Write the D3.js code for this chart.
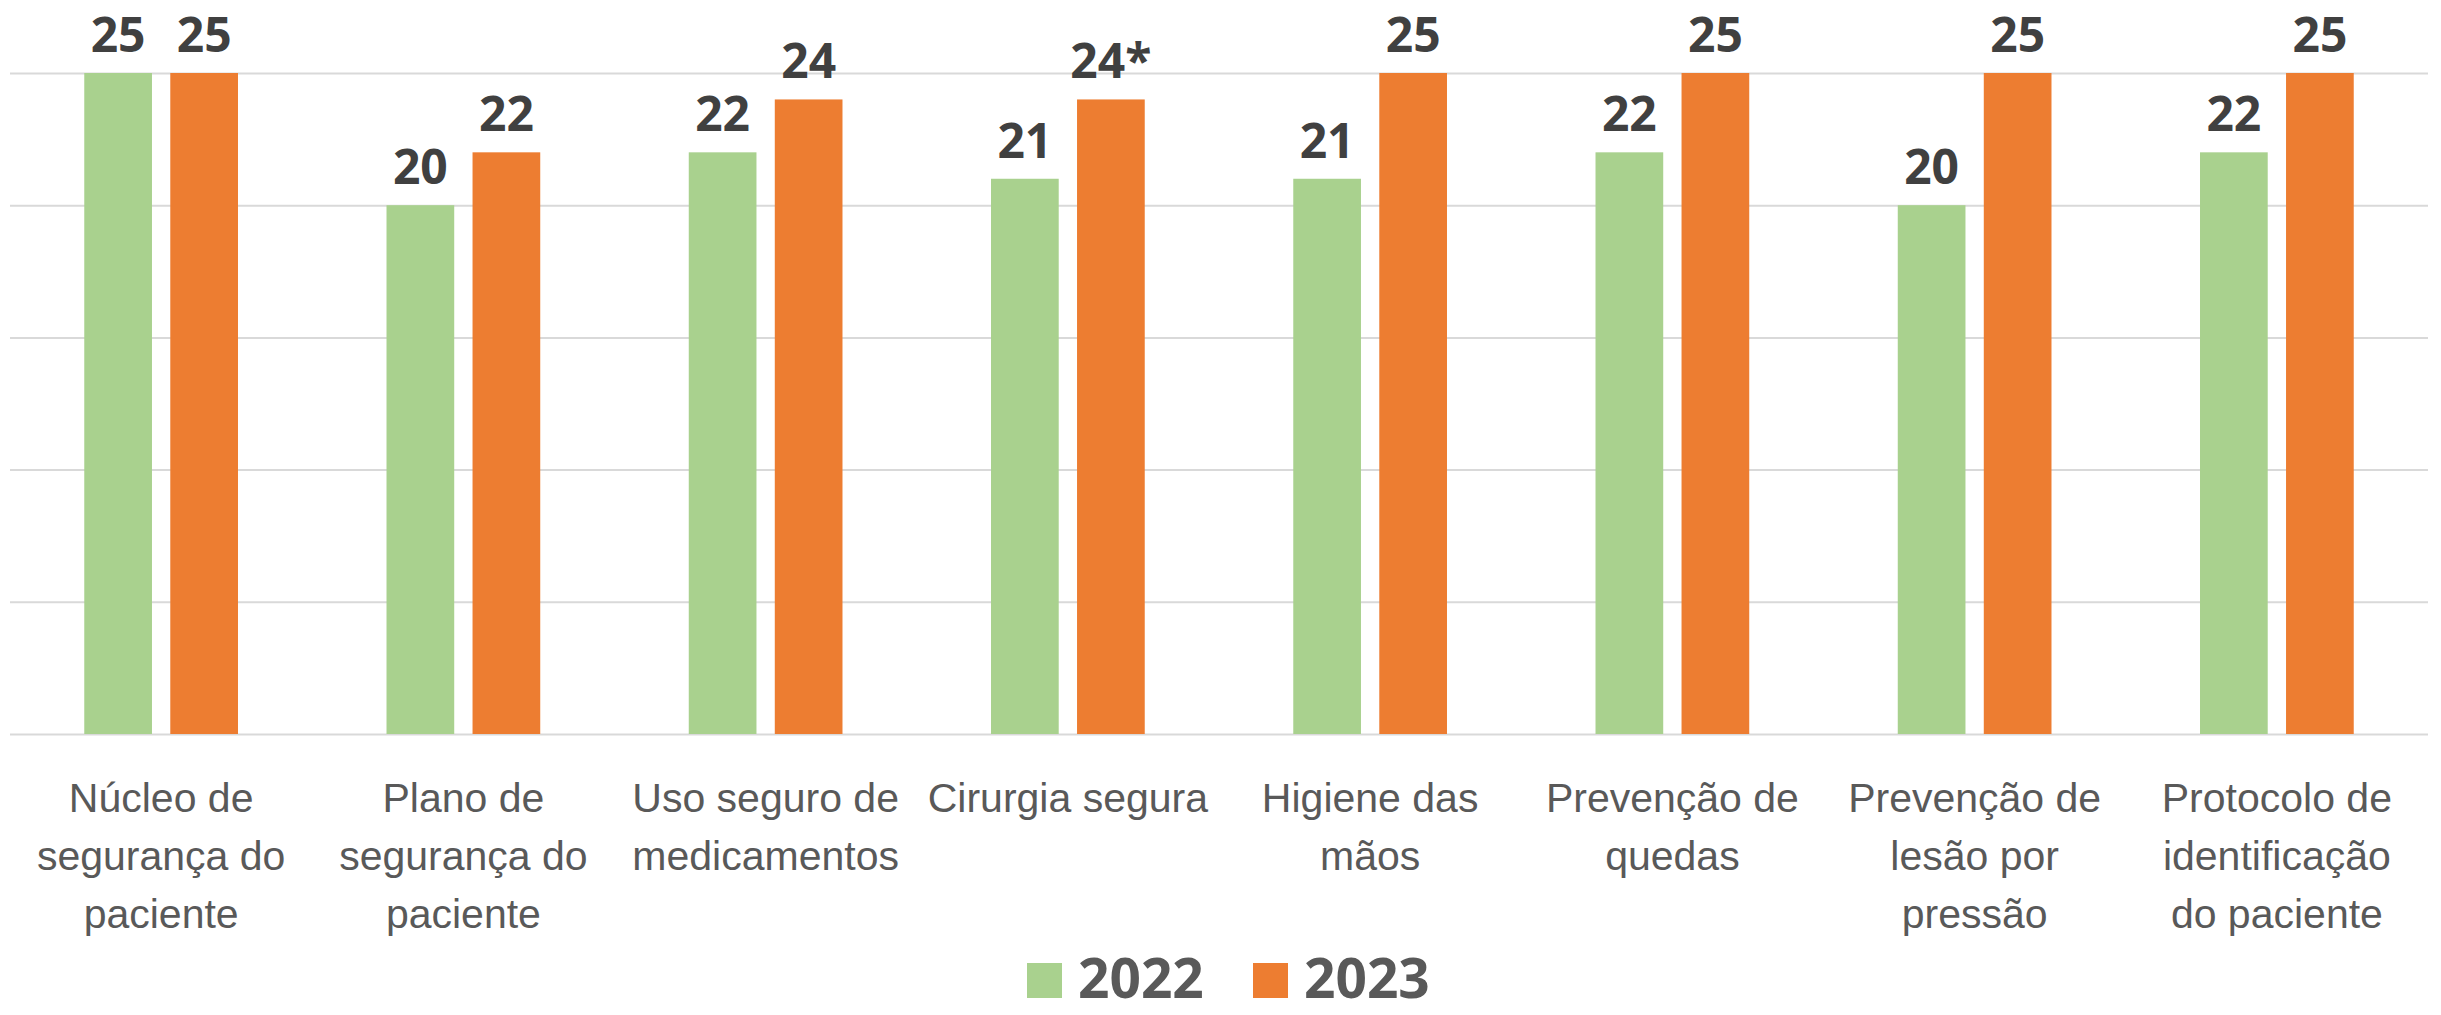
<!DOCTYPE html>
<html lang="pt">
<head>
    <meta charset="UTF-8">
    <title>Protocolos de segurança do paciente 2022 x 2023</title>
    <script src="https://d3js.org/d3.v7.min.js"></script>
    <style>
        html, body { margin: 0; padding: 0; background: #fff; }
        svg { display: block; font-family: "Open Sans", "Noto Sans", sans-serif; }
    </style>
</head>
<body>
    <div id="chart"></div>

    <script>
        // Dados
        const categories = [
            'Núcleo de\nsegurança do\npaciente',
            'Plano de\nsegurança do\npaciente',
            'Uso seguro de\nmedicamentos',
            'Cirurgia segura',
            'Higiene das\nmãos',
            'Prevenção de\nquedas',
            'Prevenção de\nlesão por\npressão',
            'Protocolo de\nidentificação\ndo paciente'
        ];
        const values2022 = [25, 20, 22, 21, 21, 22, 20, 22];
        const values2023 = [25, 22, 24, 24, 25, 25, 25, 25];
        const notes2023 = ['', '', '', '*', '', '', '', ''];
        const seriesNames = ['2022', '2023'];
        const yTicks = [0, 5, 10, 15, 20, 25];

        const colors = { '2022': '#A9D18E', '2023': '#ED7D31' };

        const W = 2441, H = 1015;
        const plot = { left: 10, right: 2428, top: 73, bottom: 734 };

        const svg = d3.select('#chart')
            .append('svg')
            .attr('width', W)
            .attr('height', H);

        const x = d3.scaleBand()
            .domain(categories)
            .range([plot.left, plot.right])
            .padding(0);

        const y = d3.scaleLinear()
            .domain([0, 25])
            .range([plot.bottom, plot.top]);

        const barW = x.step() * 0.224;
        const gap = x.step() * 0.0606;

        // Linhas de grade
        const grid = svg.append('g')
            .attr('transform', `translate(${plot.left},0)`)
            .call(d3.axisLeft(y).tickValues(yTicks).tickSize(-(plot.right - plot.left)).tickFormat(''));
        grid.select('.domain').remove();
        grid.selectAll('.tick line')
            .attr('stroke', '#D9D9D9')
            .attr('stroke-width', 2);

        // Eixo X com rótulos em várias linhas
        const xAxis = svg.append('g')
            .attr('transform', `translate(0,${plot.bottom})`)
            .call(d3.axisBottom(x).tickSize(0).tickPadding(0));
        xAxis.select('.domain').remove();
        xAxis.selectAll('.tick text')
            .attr('fill', '#595959')
            .attr('font-size', 41)
            .attr('y', 0)
            .attr('dy', 0)
            .each(function (d) {
                const t = d3.select(this).text('');
                d.split('\n').forEach((line, i) => {
                    t.append('tspan')
                        .attr('x', 0)
                        .attr('y', 78 + i * 58)
                        .text(line);
                });
            });

        // Barras
        const rows = categories.map((c, i) => [
            { key: '2022', cat: c, value: values2022[i], label: String(values2022[i]), offset: -gap / 2 - barW },
            { key: '2023', cat: c, value: values2023[i], label: values2023[i] + notes2023[i], offset: gap / 2 }
        ]).flat();

        svg.append('g').selectAll('rect')
            .data(rows)
            .join('rect')
            .attr('x', d => x(d.cat) + x.bandwidth() / 2 + d.offset)
            .attr('y', d => y(d.value))
            .attr('width', barW)
            .attr('height', d => y(0) - y(d.value))
            .attr('fill', d => colors[d.key]);

        // Rótulos de valor
        svg.append('g').selectAll('text')
            .data(rows)
            .join('text')
            .attr('x', d => x(d.cat) + x.bandwidth() / 2 + d.offset + barW / 2)
            .attr('y', d => y(d.value) - 21)
            .attr('text-anchor', 'middle')
            .attr('font-size', 48)
            .attr('font-weight', 700)
            .attr('fill', '#404040')
            .text(d => d.label);

        // Legenda
        const legendX = [1027, 1253];
        const legend = svg.append('g').selectAll('g')
            .data(seriesNames)
            .join('g')
            .attr('transform', (d, i) => `translate(${legendX[i]},963)`);
        legend.append('rect')
            .attr('width', 35)
            .attr('height', 35)
            .attr('fill', d => colors[d]);
        legend.append('text')
            .attr('x', 51)
            .attr('y', 35)
            .attr('font-size', 55)
            .attr('font-weight', 700)
            .attr('fill', '#595959')
            .text(d => d);
    </script>
</body>
</html>
